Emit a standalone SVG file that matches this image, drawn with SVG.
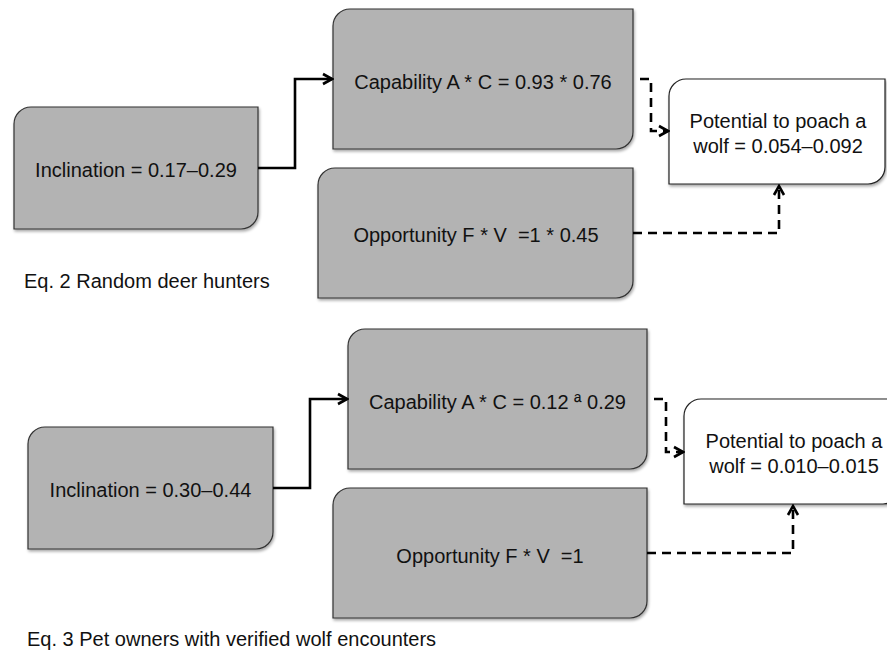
<svg xmlns="http://www.w3.org/2000/svg" width="887" height="652" viewBox="0 0 887 652">
<style>
.box{fill:#b3b3b3;stroke:#333;stroke-width:1.2;filter:url(#sh)}
.wbox{fill:#fff;stroke:#222;stroke-width:1.2;filter:url(#sh)}
.t{font-family:"Liberation Sans",Arial,sans-serif;font-size:20px;fill:#111;text-anchor:middle;white-space:pre}
.cap{font-family:"Liberation Sans",Arial,sans-serif;font-size:20px;fill:#111;white-space:pre}
.solid{fill:none;stroke:#000;stroke-width:2.6;marker-end:url(#ah)}
.dash{fill:none;stroke:#000;stroke-width:2.6;stroke-dasharray:9 6;marker-end:url(#ah)}
</style>
<defs>
<filter id="sh" x="-10%" y="-10%" width="125%" height="130%">
<feGaussianBlur in="SourceAlpha" stdDeviation="1.5"/>
<feOffset dx="1" dy="2" result="b"/>
<feComponentTransfer><feFuncA type="linear" slope="0.35"/></feComponentTransfer>
<feMerge><feMergeNode/><feMergeNode in="SourceGraphic"/></feMerge>
</filter>
<marker id="ah" viewBox="-12 -7 14 14" refX="0" refY="0" markerWidth="14" markerHeight="14" markerUnits="userSpaceOnUse" orient="auto">
<path d="M-9,-5 L0,0 L-9,5" fill="none" stroke="#000" stroke-width="2.6" stroke-dasharray="none"/>
</marker>
</defs>
<rect width="887" height="652" fill="#fff"/>

<g id="inclination1">
<path class="box" d="M31,107 H258 V212 A17 17 0 0 1 241,229 H14 V124 A17 17 0 0 1 31,107 Z"/>
<text class="t" x="136" y="177">Inclination = 0.17–0.29</text>
</g>
<g id="capability1">
<path class="box" d="M350,9 H633 V132 A17 17 0 0 1 616,149 H333 V26 A17 17 0 0 1 350,9 Z"/>
<text class="t" x="483" y="89">Capability A * C = 0.93 * 0.76</text>
</g>
<g id="opportunity1">
<path class="box" d="M335,168 H633 V281 A17 17 0 0 1 616,298 H318 V185 A17 17 0 0 1 335,168 Z"/>
<text class="t" x="476" y="242">Opportunity F * V  =1 * 0.45</text>
</g>
<g id="potential1">
<path class="wbox" d="M686,79 H885 V167 A17 17 0 0 1 868,184 H669 V96 A17 17 0 0 1 686,79 Z"/>
<text class="t" x="778" y="128">Potential to poach a</text>
<text class="t" x="778" y="153">wolf = 0.054–0.092</text>
</g>
<g id="label1">
<text class="cap" x="24" y="288">Eq. 2 Random deer hunters</text>
</g>

<g id="inclination2">
<path class="box" d="M45,427 H273 V532 A17 17 0 0 1 256,549 H28 V444 A17 17 0 0 1 45,427 Z"/>
<text class="t" x="150.5" y="497">Inclination = 0.30–0.44</text>
</g>
<g id="capability2">
<path class="box" d="M365,329 H647 V452 A17 17 0 0 1 630,469 H348 V346 A17 17 0 0 1 365,329 Z"/>
<text class="t" x="497.5" y="409">Capability A * C = 0.12 ª 0.29</text>
</g>
<g id="opportunity2">
<path class="box" d="M350,488 H647 V601 A17 17 0 0 1 630,618 H333 V505 A17 17 0 0 1 350,488 Z"/>
<text class="t" x="490" y="563">Opportunity F * V  =1</text>
</g>
<g id="potential2">
<path class="wbox" d="M701,399 H900 V487 A17 17 0 0 1 883,504 H684 V416 A17 17 0 0 1 701,399 Z"/>
<text class="t" x="794" y="448">Potential to poach a</text>
<text class="t" x="794" y="473">wolf = 0.010–0.015</text>
</g>
<g id="label2">
<text class="cap" x="27" y="646">Eq. 3 Pet owners with verified wolf encounters</text>
</g>

<g id="connectors">
<path class="solid" d="M258,168 H295 V79 H332"/>
<path class="dash" d="M640,79 H651 V131 H668"/>
<path class="dash" d="M633,233 H779 V186"/>
<path class="solid" d="M273,488 H310 V399 H347"/>
<path class="dash" d="M654,399 H666 V452 H683"/>
<path class="dash" d="M647,553 H793 V506"/>
</g>
</svg>
